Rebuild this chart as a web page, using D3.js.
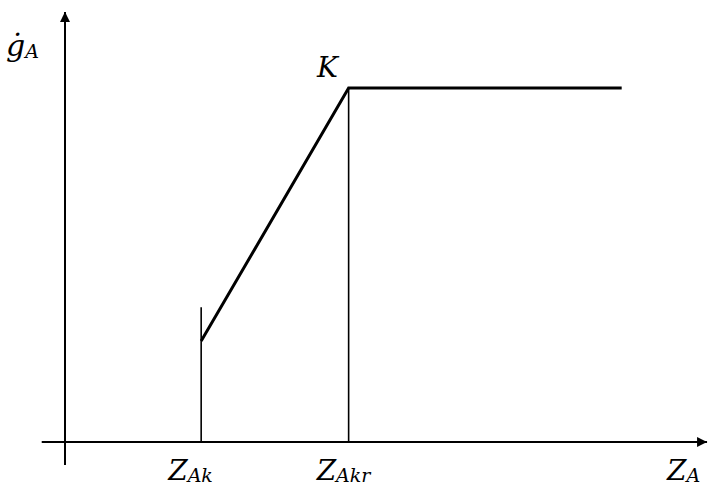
<!DOCTYPE html>
<html><head><meta charset="utf-8">
<script src="https://cdn.jsdelivr.net/npm/d3@7"></script>
<style>html,body{margin:0;padding:0;background:#fff;}svg{display:block;}</style>
</head><body>
<script>
// Data (arbitrary units)
const xLabels = ["Z_Ak", "Z_Akr", "Z_A"];
const curveX = [1.93, 4.02, 7.89];       // Z_Ak, Z_Akr, end of plateau
const curveY = [2.85, 10, 10];           // ġ_A values
const markerTopY = [3.81];               // top of vertical mark at Z_Ak
const xDomain = [0, 9];
const yDomain = [0, 10];

const W = 710, H = 488;
const svg = d3.select("body").append("svg").attr("width", W).attr("height", H);
const x = d3.scaleLinear().domain(xDomain).range([65, 700]);
const y = d3.scaleLinear().domain(yDomain).range([442, 88]);

svg.append("defs").append("marker").attr("id","arr").attr("viewBox","0 0 10 10")
  .attr("refX",10).attr("refY",5).attr("markerWidth",10).attr("markerHeight",10)
  .attr("markerUnits","userSpaceOnUse").attr("orient","auto")
  .append("path").attr("d","M0,0 L10,5 L0,10 Z").attr("fill","#000");

// axes
svg.append("line").attr("x1", x(-0.33)).attr("x2", x(9.1)).attr("y1", y(0)).attr("y2", y(0))
  .attr("stroke","#000").attr("stroke-width",2).attr("marker-end","url(#arr)");
svg.append("line").attr("x1", x(0)).attr("x2", x(0)).attr("y1", y(-0.65)).attr("y2", y(12.15))
  .attr("stroke","#000").attr("stroke-width",2).attr("marker-end","url(#arr)");

// vertical marks
svg.append("line").attr("x1", x(curveX[0])).attr("x2", x(curveX[0])).attr("y1", y(0)).attr("y2", y(markerTopY[0]))
  .attr("stroke","#000").attr("stroke-width",1.6);
svg.append("line").attr("x1", x(curveX[1])).attr("x2", x(curveX[1])).attr("y1", y(0)).attr("y2", y(curveY[1]))
  .attr("stroke","#000").attr("stroke-width",1.6);

// curve
const pts = curveX.map((d,i)=>[d, curveY[i]]);
svg.append("path").attr("d", d3.line().x(d=>x(d[0])).y(d=>y(d[1]))(pts))
  .attr("fill","none").attr("stroke","#000").attr("stroke-width",3).attr("stroke-linejoin","miter");

const font = "DejaVu Serif";
function label(px, py, main, sub, size) {
  const t = svg.append("text").attr("x", px).attr("y", py)
    .attr("font-family", font).attr("font-style","italic").attr("font-size", size || 28).attr("fill","#000");
  t.append("tspan").text(main);
  if (sub) t.append("tspan").attr("font-size", 19).attr("dy", 2).text(sub);
  return t;
}
const parts = xLabels.map(s => s.split("_"));
label(x(curveX[0]) - 33, 480, parts[0][0], parts[0][1]);
label(x(curveX[1]) - 32, 480, parts[1][0], parts[1][1]);
label(667, 480, parts[2][0], parts[2][1]);
label(317, 77, "K");
label(6, 56, "g\u0307", "A", 30);
</script>
</body></html>
